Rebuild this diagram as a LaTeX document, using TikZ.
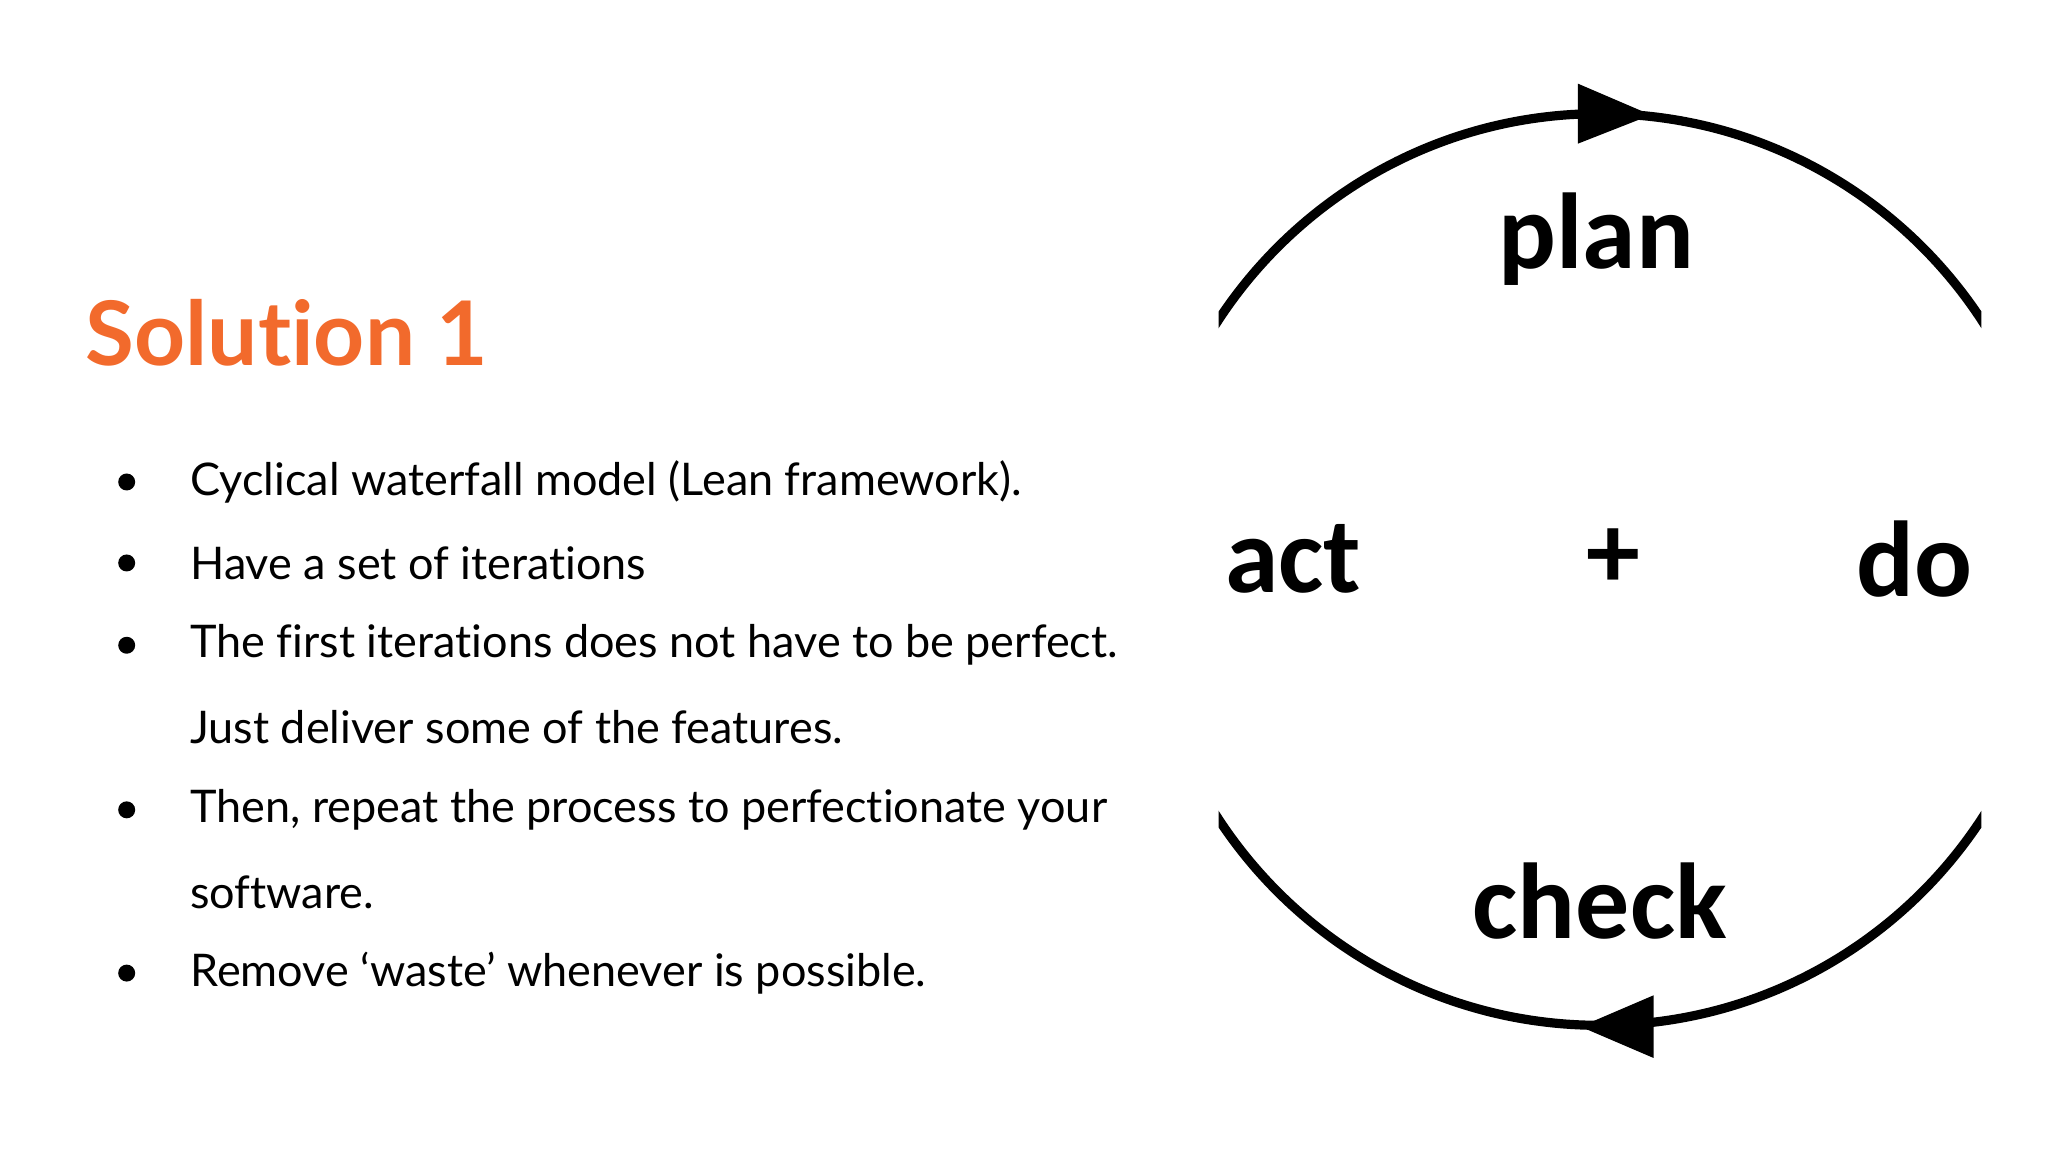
\documentclass[tikz,border=0pt]{standalone}
\usepackage{fontspec}
\setmainfont{Lato}[RawFeature={-liga;-dlig}]
\newfontfamily\cyclefont{Carlito}
\usetikzlibrary{arrows.meta, positioning}
\definecolor{titleorange}{HTML}{F26A2C}
\tikzset{
  bullet item/.style = {anchor=west, font=\fontsize{9.8pt}{12pt}\selectfont, inner sep=0pt},
  step label/.style = {font=\cyclefont\bfseries\fontsize{23.5pt}{27pt}\selectfont, inner sep=0pt},
  cycle line/.style = {line width=2pt}
}

\begin{document}
\begin{tikzpicture}[x=1cm, y=-1cm]

  \useasboundingbox (0,0) rectangle (15.68,8.82);

  % Title
  \node[anchor=west, text=titleorange, font=\bfseries\fontsize{19.4pt}{23pt}\selectfont, inner sep=0pt] (title) at (0.65,2.55) {Solution 1};

  % Bullets
  \foreach \y/\txt/\b [count=\i] in {
      3.69/Cyclical waterfall model (Lean framework)./1,
      4.31/Have a set of iterations/1,
      4.94/The first iterations does not have to be perfect./1,
      5.57/Just deliver some of the features./0,
      6.20/{Then, repeat the process to perfectionate your}/1,
      6.83/software./0,
      7.45/Remove ‘waste’ whenever is possible./1} {
    \node[bullet item] (item\i) at (1.45,\y) {\txt};
    \ifnum\b=1
      \fill (0.97,\y) circle (0.065);
    \fi
  }

  % Cycle
  \coordinate (hub) at (12.25,4.36);
  \begin{scope}
    \clip (9.33,0) rectangle (15.17,8.82);
    \draw[cycle line] (hub) circle (3.49);
  \end{scope}

  % Arrow heads
  \coordinate (toptip) at (12.64,0.88);
  \coordinate (bottip) at (12.10,7.86);
  \fill (toptip) -- (12.08,0.64) -- (12.08,1.10) -- cycle;
  \fill (bottip) -- (12.66,7.62) -- (12.66,8.10) -- cycle;

  % Labels
  \node[step label] (plan) at (12.22,1.83) {plan};
  \node[step label] (act) at (9.90,4.28) {act};
  \node[step label] (hubmark) at (12.35,4.28) {+};
  \node[step label] (do) at (14.66,4.28) {do};
  \node[step label] (check) at (12.25,6.90) {check};

\end{tikzpicture}
\end{document}
